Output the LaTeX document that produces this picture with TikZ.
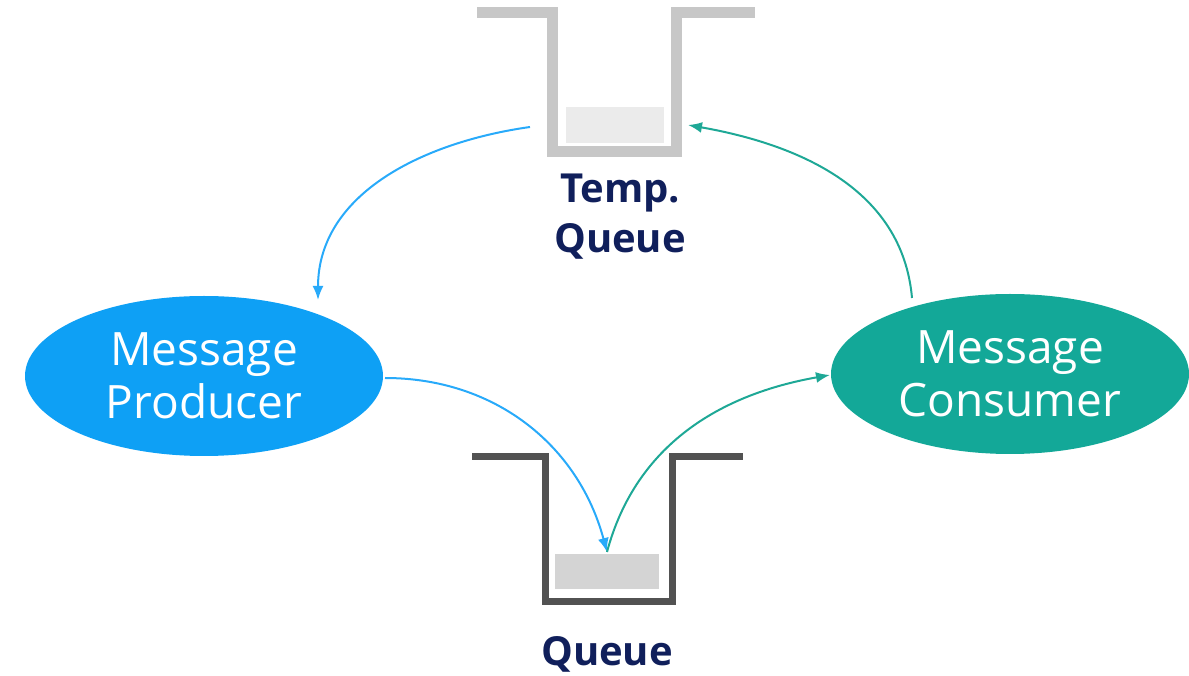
\documentclass[tikz,border=0pt]{standalone}
\usepackage{fontspec}
\setmainfont{Open Sans}
\usetikzlibrary{shapes.geometric,arrows.meta}
\definecolor{prodblue}{RGB}{14,160,245}
\definecolor{consteal}{RGB}{19,168,152}
\definecolor{arrblue}{RGB}{40,170,250}
\definecolor{arrteal}{RGB}{30,168,150}
\definecolor{navy}{RGB}{16,31,91}
\tikzset{>={Latex[length=14pt,width=11pt]}}
\tikzset{
    agent/.style={ellipse, minimum width=358pt, minimum height=160pt, inner sep=0pt,
        text=white, align=center, font=\fontsize{46}{53}\selectfont},
    qlabel/.style={text=navy, align=center, font=\bfseries\fontsize{40}{50}\selectfont},
}
\begin{document}
\begin{tikzpicture}[x=1pt, y=1pt]
    \useasboundingbox (0, 0) rectangle (1189, 675);
    % temporary queue (top)
    \fill[black!8](566, 532) rectangle (664, 568);
    \draw[line width=11pt, black!22](477, 662)--(552, 662)--(552, 523)--(676, 523)--(676, 662)--(755, 662);
    \node[qlabel](tmplbl)at(620, 458){Temp.\\Queue};
    % queue (bottom)
    \fill[black!17](555, 86) rectangle (659, 121);
    \draw[line width=7pt, black!68](472, 218)--(545, 218)--(545, 73)--(672, 73)--(672, 218)--(743, 218);
    \node[qlabel](qlbl)at(607, 21){Queue};
    % producer and consumer
    \node[agent, fill=prodblue](prod)at(204, 299){Message\\Producer};
    \node[agent, fill=consteal](cons)at(1010, 301){Message\\Consumer};
    % connectors
    \coordinate(tmpin)at(688, 550);
    \coordinate(tmpout)at(530, 548);
    \coordinate(qin)at(607, 123);
    \coordinate(prodin)at(318, 375);
    \coordinate(prodout)at(385, 297);
    \coordinate(consin)at(830, 300);
    \coordinate(consout)at(912, 377);
    \draw[arrblue, line width=2pt, ->](tmpout)to[out=188, in=90](prodin);
    \draw[arrblue, line width=2pt, ->](prodout)to[out=0, in=105](qin);
    \draw[arrteal, line width=2pt, ->](qin)to[out=75, in=190](consin);
    \draw[arrteal, line width=2pt, ->](consout)to[out=95, in=-10](tmpin);
\end{tikzpicture}
\end{document}
